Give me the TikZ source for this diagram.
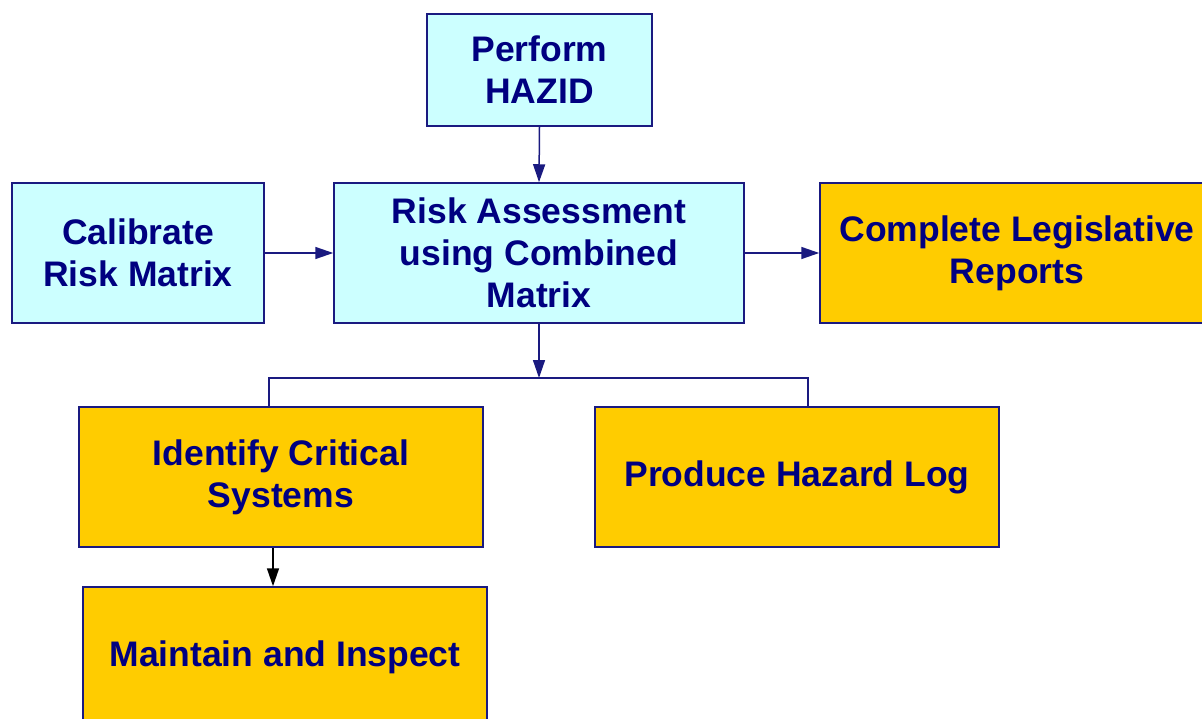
\documentclass[tikz,border=0pt]{standalone}
\usepackage{fontspec}
\setmainfont{Liberation Sans}
\usetikzlibrary{arrows.meta}
\definecolor{navyc}{HTML}{000080}
\definecolor{bordc}{HTML}{1A1A80}
\definecolor{cyanf}{HTML}{CCFFFF}
\definecolor{orangef}{HTML}{FFCC00}
\tikzset{
  box/.style={draw=bordc, line width=1.5pt, align=center, inner sep=0pt,
    text=navyc, font=\fontsize{35.5}{42}\selectfont\bfseries},
  cyanbox/.style={box, fill=cyanf},
  orangebox/.style={box, fill=orangef},
  conn/.style={draw=bordc, line width=1.5pt},
  arr/.style={conn, -{Triangle[length=18pt,width=12pt]}},
  blackarr/.style={draw=black, line width=1.5pt, -{Triangle[length=18pt,width=12pt]}}
}
\begin{document}
\begin{tikzpicture}[x=1pt,y=-1pt]
\path[use as bounding box, clip] (0,0) rectangle (1202,719);
\node[cyanbox, minimum width=225pt, minimum height=112pt] (hazid) at (539.5,70) {Perform\\HAZID};
\node[cyanbox, minimum width=252pt, minimum height=140pt] (calib) at (138,253) {Calibrate\\Risk Matrix};
\node[cyanbox, minimum width=410pt, minimum height=140pt] (risk) at (539,253) {Risk Assessment\\using Combined\\Matrix};
\node[orangebox, minimum width=394pt, minimum height=140pt] (compl) at (1017,253) {Complete Legislative\\Reports};
\node[orangebox, minimum width=404pt, minimum height=140pt] (ident) at (281,477) {Identify Critical\\Systems};
\node[orangebox, minimum width=404pt, minimum height=140pt] (prod) at (797,477) {Produce Hazard Log};
\node[orangebox, minimum width=404pt, minimum height=140pt] (maint) at (285,657) {Maintain and Inspect};
\coordinate (junc) at (539,378);
\draw[arr] (hazid.south) -- (risk.north);
\draw[arr] (calib.east) -- (risk.west);
\draw[arr] (risk.east) -- (compl.west);
\draw[arr] (risk.south) -- (junc);
\draw[conn] (ident.north -| 269,0) |- (junc) -| (prod.north -| 808,0);
\draw[blackarr] (ident.south -| 273,0) -- (maint.north -| 273,0);
\end{tikzpicture}
\end{document}
